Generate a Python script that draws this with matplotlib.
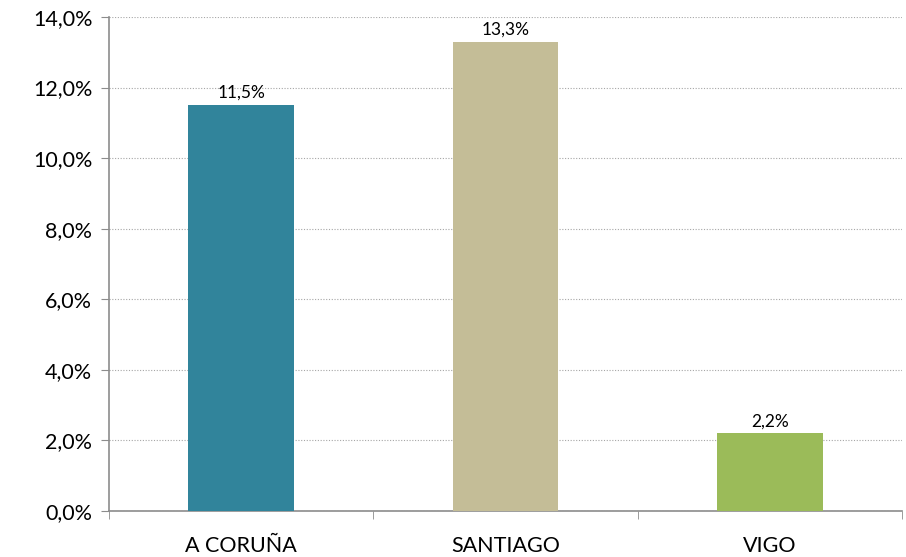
import matplotlib.pyplot as plt
from matplotlib.ticker import FuncFormatter, FixedLocator

# datos
ciudades = ['A CORUÑA', 'SANTIAGO', 'VIGO']
valores = [11.5, 13.3, 2.2]
colores = ['#31849B', '#C4BD97', '#9BBB59']
y_ticks = [0, 2, 4, 6, 8, 10, 12, 14]

plt.rcParams['font.family'] = ['Lato', 'DejaVu Sans']

fig = plt.figure(figsize=(9.06, 5.57), dpi=100)
ax = fig.add_axes([0.1203, 0.0826, 0.8753, 0.8869])

x = range(len(ciudades))
bars = ax.bar(x, valores, width=0.4, color=colores, zorder=3)

for b, v in zip(bars, valores):
    ax.text(b.get_x() + b.get_width() / 2, v + 0.12,
            f'{v:.1f}%'.replace('.', ','), ha='center', va='bottom',
            fontsize=12.5, color='#000000')

ax.set_xlim(-0.5, len(ciudades) - 0.5)
ax.set_ylim(0, 14)
ax.set_yticks(y_ticks)
ax.yaxis.set_major_formatter(FuncFormatter(lambda v, p: f'{v:.1f}%'.replace('.', ',')))
ax.grid(axis='y', color='#A6A6A6', linestyle=(0, (1, 1.5)), linewidth=0.8, zorder=0)

ax.set_xticks(list(x))
ax.set_xticklabels(ciudades)
ax.xaxis.set_minor_locator(FixedLocator([i - 0.5 for i in range(len(ciudades) + 1)]))
ax.tick_params(axis='x', which='major', length=0, pad=18, labelsize=15.5)
ax.tick_params(axis='x', which='minor', length=6, color='#8C8C8C', direction='out')
ax.tick_params(axis='y', length=6, color='#8C8C8C', labelsize=15.5, pad=6)

for s in ['top', 'right']:
    ax.spines[s].set_visible(False)
for s in ['left', 'bottom']:
    ax.spines[s].set_color('#8C8C8C')
    ax.spines[s].set_linewidth(1.2)

fig.savefig('out.png', dpi=100)
